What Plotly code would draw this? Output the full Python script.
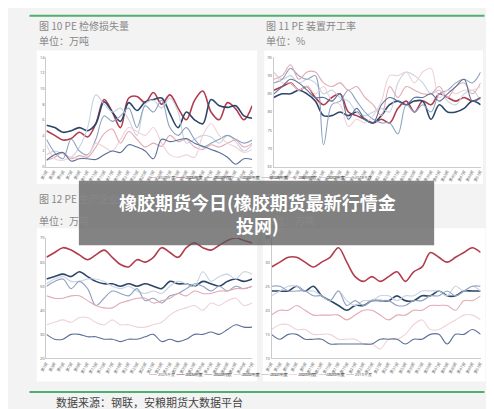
import plotly.graph_objects as go

years = ["2025年度", "2024年度", "2023年度", "2022年度", "2021年度", "2020年度", "2019年度"]
colors = ["#b23b4c", "#2c4669", "#c8d2e2", "#8ea2bf", "#e2aab4", "#efd2d8", "#5b6f97"]
widths = [1.6, 1.6, 1.1, 1.1, 1.1, 1.1, 1.1]
weeks = ["第%d周" % i for i in range(1, 53, 2)]

# Chart 1: PE 检修损失量 (万吨)
c1 = [
    [4.6, 4.0, 3.4, 3.6, 4.4, 3.8, 5.5, 8.6, 7.0, 5.0, 8.8, 9.0, 8.2, 9.5, 8.0, 9.2, 7.5, 6.0, 8.5, 9.7, 7.0, 6.0, 8.2, 7.4, 6.0, 7.8],
    [5.3, 5.0, 4.4, 4.6, 5.0, 4.6, 5.5, 8.3, 7.0, 5.8, 8.2, 7.2, 8.3, 8.6, 8.8, 6.8, 5.0, 7.0, 6.0, 5.5, 8.6, 7.8, 7.6, 7.8, 6.5, 6.2],
    [1.5, 2.0, 1.6, 1.2, 2.5, 5.0, 9.2, 8.0, 7.0, 7.5, 6.0, 4.0, 8.0, 8.5, 7.5, 8.8, 7.0, 3.0, 3.5, 4.0, 3.8, 3.0, 4.0, 3.2, 2.0, 2.8],
    [3.5, 1.8, 1.0, 3.5, 2.0, 1.5, 3.5, 6.5, 5.8, 6.5, 7.5, 5.0, 7.8, 7.0, 8.5, 5.0, 4.0, 5.0, 3.5, 2.5, 3.0, 3.5, 4.0, 3.5, 3.0, 3.4],
    [0.8, 1.2, 1.8, 1.0, 1.4, 1.2, 2.5, 4.2, 4.8, 3.0, 4.5, 3.5, 2.5, 3.0, 2.6, 4.0, 3.2, 3.5, 2.5, 2.2, 2.8, 2.5, 3.0, 3.4, 2.5, 3.0],
    [2.8, 1.0, 0.8, 1.2, 1.0, 1.4, 3.0, 2.5, 2.0, 3.5, 5.0, 4.5, 4.0, 5.0, 3.0, 1.5, 1.2, 1.5, 1.2, 4.0, 5.5, 4.0, 3.0, 2.5, 1.8, 2.2],
    [0.8, 1.5, 1.8, 0.7, 1.0, 1.0, 0.9, 1.5, 2.0, 1.8, 2.8, 2.5, 2.0, 1.0, 3.5, 3.2, 3.4, 3.6, 3.0, 2.6, 2.2, 1.8, 1.2, 0.3, 1.0, 0.9],
]
# Chart 2: PE 装置开工率 (%)
c2 = [
    [86, 87, 88, 86, 87, 84, 82, 84, 85, 80, 79, 78, 77, 78, 77, 81, 83, 80, 83, 82, 85, 84, 83, 84, 83, 84],
    [84, 85, 85, 86, 85, 83, 79, 79, 80, 79, 80, 78, 77, 79, 82, 83, 82, 83, 83, 78, 82, 80, 80, 81, 83, 82],
    [91, 89, 90, 88, 89, 88, 85, 86, 84, 83, 80, 79, 80, 81, 80, 88, 91, 90, 88, 85, 86, 83, 82, 85, 86, 83],
    [88, 89, 92, 90, 89, 90, 71, 82, 83, 86, 83, 80, 78, 77, 77, 74, 82, 80, 82, 80, 85, 86, 88, 89, 88, 91],
    [89, 90, 93, 89, 91, 91, 88, 87, 88, 86, 87, 84, 82, 79, 87, 84, 87, 86, 85, 85, 87, 84, 87, 88, 85, 88],
    [91, 88, 88, 86, 87, 85, 87, 83, 82, 76, 78, 77, 79, 83, 90, 90, 91, 88, 91, 92, 84, 86, 85, 86, 86, 87],
    [85, 87, 89, 88, 86, 84, 84, 83, 85, 78, 81, 78, 77, 82, 84, 83, 82, 84, 84, 85, 83, 85, 87, 89, 83, 84],
]
# Chart 3: PE 生产企业库存 (万吨)
c3 = [
    [62, 64, 66, 65, 63, 61, 63, 65, 62, 59, 58, 61, 60, 62, 66, 64, 62, 66, 68, 66, 65, 67, 69, 70, 69, 68],
    [53, 54, 55, 54, 56, 54, 52, 51, 51, 50, 51, 50, 51, 50, 49, 52, 51, 51, 50, 52, 51, 50, 52, 53, 52, 53],
    [51, 53, 54, 52, 52, 53, 53, 52, 50, 49, 50, 48, 47, 48, 47, 50, 52, 51, 50, 56, 52, 54, 55, 53, 56, 55],
    [50, 52, 53, 49, 52, 49, 42, 45, 48, 47, 46, 49, 44, 45, 43, 46, 47, 49, 51, 50, 48, 50, 48, 50, 49, 50],
    [46, 45, 45, 46, 46, 44, 42, 41, 41, 43, 44, 45, 45, 43, 44, 45, 47, 46, 48, 47, 47, 48, 48, 49, 49, 50],
    [34, 35, 36, 35, 37, 37, 35, 34, 36, 34, 34, 33, 33, 34, 35, 38, 40, 41, 42, 40, 43, 42, 44, 45, 42, 43],
    [30, 28, 28, 30, 30, 29, 29, 28, 28, 27, 28, 28, 29, 30, 27, 28, 27, 28, 30, 30, 31, 30, 32, 34, 33, 33],
]
# Chart 4: PE 社会库存 (万吨)
c4 = [
    [29, 30, 31, 31, 30, 29, 30, 31, 33, 30, 27, 26, 27, 26, 27, 28, 26, 28, 29, 32, 31, 30, 31, 32, 33, 32],
    [24, 24, 24, 25, 24, 25, 23, 22, 21, 20, 21, 21, 22, 22, 22, 23, 22, 22, 23, 23, 24, 23, 23, 24, 24, 24],
    [23, 24, 25, 25, 24, 24, 23, 22, 24, 22, 21, 22, 22, 23, 23, 22, 23, 23, 24, 24, 24, 23, 25, 24, 25, 24],
    [25, 25, 24, 24, 24, 23, 23, 22, 24, 21, 22, 21, 22, 22, 22, 21, 21, 22, 22, 23, 23, 24, 23, 24, 25, 25],
    [19, 20, 20, 21, 20, 19, 19, 19, 19, 18, 19, 20, 20, 19, 18, 19, 19, 20, 20, 21, 21, 21, 20, 22, 22, 23],
    [16, 17, 17, 16, 16, 15, 15, 15, 14, 14, 14, 13, 13, 12, 14, 14, 15, 17, 18, 16, 16, 17, 18, 19, 19, 18],
    [15, 14, 15, 15, 14, 14, 14, 13, 13, 13, 13, 13, 13, 14, 14, 14, 13, 14, 14, 15, 15, 13, 15, 15, 16, 15],
]

# (data, yrange, dtick, xdomain, ydomain, title, unit, box, title_y, unit_y)
charts = [
    (c1, [0, 14], 2, (0.065, 0.49), (0.615, 0.885), "图 10 PE 检修损失量", "单位：万吨", (0.045, 0.5, 0.572, 0.902), 0.963, 0.927),
    (c2, [65, 95], 5, (0.535, 0.962), (0.615, 0.885), "图 11 PE 装置开工率", "单位：%", (0.515, 0.967, 0.572, 0.902), 0.963, 0.927),
    (c3, [20, 70], 10, (0.065, 0.49), (0.14, 0.438), "图 12 PE 生产企业库存", "单位：万吨", (0.045, 0.5, 0.083, 0.462), 0.535, 0.482),
    (c4, [10, 35], 5, (0.53, 0.962), (0.14, 0.438), "图 13 PE 社会库存", "单位：万吨", (0.512, 0.972, 0.083, 0.462), 0.535, 0.482),
]

fig = go.Figure()
shapes = []
annotations = []
for i, (data, yr, dt, xd, yd, title, unit, box, ty, uy) in enumerate(charts):
    n = "" if i == 0 else str(i + 1)
    for j, s in enumerate(data):
        fig.add_trace(go.Scatter(x=weeks, y=s, mode="lines", name=years[j],
                                 line=dict(color=colors[j], width=widths[j], shape="spline"),
                                 xaxis="x" + n, yaxis="y" + n, showlegend=False))
    fig.layout["xaxis" + n] = dict(domain=list(xd), anchor="y" + n, tickangle=-60,
                                   tickfont=dict(size=4, color="#666"), showgrid=False,
                                   showline=True, linecolor="#ccc", ticks="")
    fig.layout["yaxis" + n] = dict(domain=list(yd), anchor="x" + n, range=yr, dtick=dt,
                                   tickfont=dict(size=4, color="#666"), showgrid=False,
                                   showline=True, linecolor="#ccc", zeroline=False)
    shapes.append(dict(type="rect", xref="paper", yref="paper", x0=box[0], x1=box[1],
                       y0=box[2], y1=box[3], fillcolor="white", line=dict(width=0), layer="below"))
    annotations.append(dict(xref="paper", yref="paper", x=box[0], y=ty, text=title,
                            showarrow=False, xanchor="left", yanchor="middle",
                            font=dict(size=10, color="#888", family="Noto Sans CJK SC")))
    annotations.append(dict(xref="paper", yref="paper", x=box[0], y=uy, text=unit,
                            showarrow=False, xanchor="left", yanchor="middle",
                            font=dict(size=10, color="#888", family="Noto Sans CJK SC")))
    leg = "  ".join('<span style="color:%s">━━</span> %s' % (c, y) for c, y in zip(colors, years))
    annotations.append(dict(xref="paper", yref="paper", x=(box[0] + box[1]) / 2, y=box[2] + 0.005,
                            text=leg, showarrow=False, yanchor="bottom",
                            font=dict(size=4, color="#555")))

shapes.append(dict(type="line", xref="paper", yref="paper", x0=0.03, x1=0.97, y0=0.988, y1=0.988,
                   line=dict(color="#4caf6e", width=2)))
shapes.append(dict(type="line", xref="paper", yref="paper", x0=0.03, x1=0.97, y0=0.057, y1=0.057,
                   line=dict(color="#4caf6e", width=2)))
shapes.append(dict(type="rect", xref="paper", yref="paper", x0=0.132, x1=0.866, y0=0.42, y1=0.58,
                   fillcolor="rgba(90,90,90,0.75)", line=dict(width=0)))
annotations.append(dict(xref="paper", yref="paper", x=0.5, y=0.5,
                        text="<b>橡胶期货今日(橡胶期货最新行情金<br>投网)</b>", showarrow=False,
                        font=dict(size=18, color="white", family="Noto Sans CJK SC")))
annotations.append(dict(xref="paper", yref="paper", x=0.081, y=0.033, text="数据来源：钢联，安粮期货大数据平台",
                        showarrow=False, xanchor="left", yanchor="middle",
                        font=dict(size=11, color="#444", family="Noto Sans CJK SC")))

fig.update_layout(width=494, height=409, margin=dict(l=0, r=0, t=0, b=0),
                  paper_bgcolor="#f3f3f3", plot_bgcolor="white",
                  shapes=shapes, annotations=annotations)
fig.write_html("out.html")
